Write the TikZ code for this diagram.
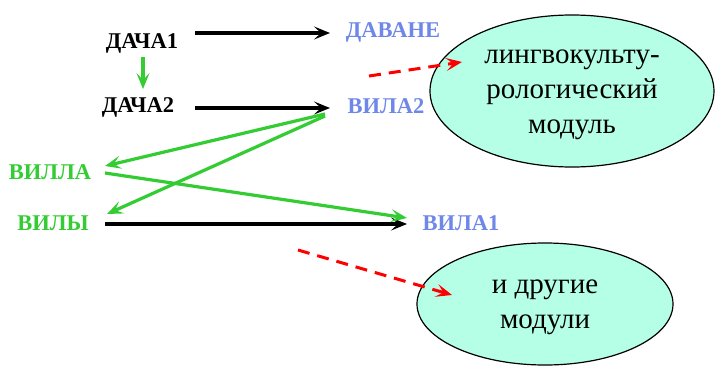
\documentclass[tikz,border=0pt]{standalone}
\usepackage{fontspec}
\IfFontExistsTF{LiberationSerif-Regular.ttf}{%
  \newfontfamily\tmsfont{LiberationSerif}[Extension=.ttf, UprightFont=*-Regular, BoldFont=*-Bold]}{%
  \newfontfamily\tmsfont{DejaVu Serif}}
\usetikzlibrary{arrows.meta,shapes.geometric}
\definecolor{lblblue}{RGB}{110,135,232}
\definecolor{lgreen}{RGB}{51,204,51}
\definecolor{aquafill}{RGB}{180,255,230}
\begin{document}
\begin{tikzpicture}[x=1pt,y=-1pt,
  lbl/.style={font=\tmsfont\bfseries\fontsize{22.5}{26}\selectfont, inner sep=0pt},
  blk/.style={draw=black, line width=3.5pt, -{Stealth[length=16pt,width=13pt,inset=7pt]}},
  grn/.style={draw=lgreen, line width=3.2pt, -{Stealth[length=16pt,width=13pt,inset=7pt]}},
  reddash/.style={draw=red, line width=3pt, dash pattern=on 12pt off 8pt, -{Stealth[length=16pt,width=13pt,inset=7pt]}},
  modbox/.style={ellipse, draw=black, line width=1.2pt, fill=aquafill, inner sep=0pt, align=center,
    font=\tmsfont\fontsize{29}{35}\selectfont}]
\useasboundingbox (0,0) rectangle (716,365);

% modules
\node[modbox, minimum width=284pt, minimum height=152pt] (m1) at (572,91) {\raisebox{-10pt}{\begin{tabular}{@{}c@{}}лингвокульту-\\рологический\\модуль\end{tabular}}};
\node[modbox, minimum width=256pt, minimum height=122pt] (m2) at (545,304) {\raisebox{-10pt}{\begin{tabular}{@{}c@{}}и другие\\модули\end{tabular}}};

% labels
\node[lbl] (d1) at (142,43) {ДАЧА1};
\node[lbl] (d2) at (138,107) {ДАЧА2};
\node[lbl, text=lblblue] (dav) at (393,32) {ДАВАНЕ};
\node[lbl, text=lblblue] (v2) at (386,106) {ВИЛА2};
\node[lbl, text=lgreen] (villa) at (50,172) {ВИЛЛА};
\node[lbl, text=lgreen] (vily) at (53,223) {ВИЛЫ};
\node[lbl, text=lblblue] (v1) at (461,223) {ВИЛА1};

% connector end points
\coordinate (d1o) at (195,33);
\coordinate (davi) at (330,33);
\coordinate (d2o) at (195,108);
\coordinate (v2i) at (330,108);
\coordinate (vilyo) at (105,224);
\coordinate (v1i) at (407,224);
\coordinate (d1b) at (143,57);
\coordinate (d2t) at (143,89);
\coordinate (v2a) at (325,114);
\coordinate (v2b) at (325,116);
\coordinate (villai) at (105,166);
\coordinate (vilyi) at (107,214);
\coordinate (villao) at (105,173);
\coordinate (v1g) at (407,218);
\coordinate (r1s) at (369,76);
\coordinate (r1e) at (462,62);
\coordinate (r2s) at (298,250);
\coordinate (r2e) at (452,295);

% black arrows
\draw[blk] (d1o) -- (davi);
\draw[blk] (d2o) -- (v2i);
\draw[blk] (vilyo) -- (v1i);

% green arrows
\draw[grn] (d1b) -- (d2t);
\draw[grn] (v2a) -- (villai);
\draw[grn] (v2b) -- (vilyi);
\draw[grn] (villao) -- (v1g);

% red dashed arrows
\draw[reddash] (r1s) -- (r1e);
\draw[reddash] (r2s) -- (r2e);
\end{tikzpicture}
\end{document}
